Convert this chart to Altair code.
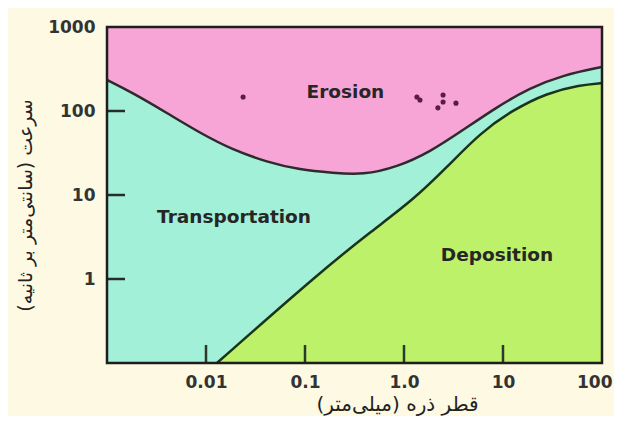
import altair as alt
import pandas as pd

# axis ticks
x_ticks = [0.01, 0.1, 1, 10, 100]
x_tick_labels = ["0.01", "0.1", "1.0", "10", "100"]
y_ticks = [1, 10, 100, 1000]
y_tick_labels = ["1", "10", "100", "1000"]
x_inner_ticks = [0.01, 0.1, 1, 10]
y_inner_ticks = [1, 10, 100]

# erosion curve (upper boundary of transportation)
erosion_d = [0.001, 0.00183, 0.00404, 0.00869, 0.01875, 0.0413, 0.0889, 0.192, 0.386, 0.85, 1.83, 3.95, 8.7, 18.7, 40.4, 100]
erosion_v = [234, 164, 94.6, 54.7, 34.3, 24.7, 19.9, 18.3, 17.3, 21.5, 32.5, 59.4, 112, 188, 268, 334]

# deposition curve (lower boundary of transportation)
deposition_d = [0.0129, 0.142, 0.486, 1.23, 2.72, 5.86, 12.6, 27.8, 60, 100]
deposition_v = [0.1, 1.21, 3.83, 8.7, 21.5, 54.7, 103, 164, 204, 215]

# sample points
sample_d = [0.0237, 1.35, 1.45, 2.48, 2.48, 2.2, 3.35]
sample_v = [147, 147, 135, 155, 128, 109, 124]

# region labels
region_names = ["Erosion", "Transportation", "Deposition"]
region_d = [0.256, 0.0192, 8.7]
region_v = [168, 5.47, 1.93]

PINK = "#f7a5d6"
CYAN = "#a2f0d8"
GREEN = "#bdf16a"
CREAM = "#fdf9e2"
INK = "#262626"


def label_expr(vals, labs):
    expr = "''"
    for v, l in reversed(list(zip(vals, labs))):
        expr = f"(abs(datum.value - {v}) < {v * 1e-3}) ? '{l}' : ({expr})"
    return expr


x_scale = alt.Scale(type="log", domain=[0.001, 100], nice=False)
y_scale = alt.Scale(type="log", domain=[0.1, 1000], nice=False)

x_axis = alt.Axis(
    values=x_ticks, labelExpr=label_expr(x_ticks, x_tick_labels),
    ticks=False, tickSize=0, domain=False, grid=False,
    labelFlush=True, labelFlushOffset=10,
    labelPadding=11, labelFont="DejaVu Sans", labelFontWeight="bold",
    labelFontSize=17, labelColor="#333333",
    title="قطر ذره (میلی‌متر)", titleFont="DejaVu Sans", titleFontSize=20,
    titleFontWeight="normal", titleColor="#222222",
    titleX=290, titleY=41, titleAlign="center", titleBaseline="middle",
)
y_axis = alt.Axis(
    values=y_ticks, labelExpr=label_expr(y_ticks, y_tick_labels),
    ticks=False, tickSize=0, domain=False, grid=False, labelFlush=False,
    labelPadding=12, labelFont="DejaVu Sans", labelFontWeight="bold",
    labelFontSize=17, labelColor="#333333", labelBaseline="middle",
    title="سرعت (سانتی‌متر بر ثانیه)", titleFont="DejaVu Sans", titleFontSize=19,
    titleFontWeight="normal", titleColor="#222222",
    titleX=-82, titleY=178, titleAlign="center", titleBaseline="middle",
)

X = alt.X("d:Q", scale=x_scale, axis=x_axis)
Y = alt.Y("v:Q", scale=y_scale, axis=y_axis)

erosion = pd.DataFrame({"d": erosion_d, "v": erosion_v})
deposition = pd.DataFrame({"d": deposition_d, "v": deposition_v})
samples = pd.DataFrame({"d": sample_d, "v": sample_v})
regions = pd.DataFrame({"name": region_names, "d": region_d, "v": region_v})
xt = pd.DataFrame({"d": x_inner_ticks})
yt = pd.DataFrame({"v": y_inner_ticks})

transport_area = alt.Chart(erosion).mark_area(
    color=CYAN, interpolate="basis", clip=True
).encode(x=X, y=Y, y2=alt.datum(0.1))

deposit_area = alt.Chart(deposition).mark_area(
    color=GREEN, interpolate="basis", clip=True
).encode(x=X, y=Y, y2=alt.datum(0.1))

erosion_line = alt.Chart(erosion).mark_line(
    color="#2e2a2e", strokeWidth=2.5, interpolate="basis", clip=True
).encode(x=X, y=Y)

deposition_line = alt.Chart(deposition).mark_line(
    color="#1a331a", strokeWidth=2.5, interpolate="basis", clip=True
).encode(x=X, y=Y)

x_tick_rules = alt.Chart(xt).mark_rule(color="#2a3a2a", strokeWidth=2.5).encode(
    x=X, y=alt.value(336), y2=alt.value(318)
)
y_tick_rules = alt.Chart(yt).mark_rule(color="#2a2a2a", strokeWidth=2.5).encode(
    y=Y, x=alt.value(0), x2=alt.value(18)
)

frame = alt.Chart(pd.DataFrame({"a": [0]})).mark_rect(
    fillOpacity=0, stroke="#1e1e1e", strokeWidth=2.5
).encode(x=alt.value(0), x2=alt.value(495), y=alt.value(0), y2=alt.value(336))

points = alt.Chart(samples).mark_circle(color="#5a1c40", size=26, opacity=1).encode(x=X, y=Y)

labels = alt.Chart(regions).mark_text(
    font="DejaVu Sans", fontWeight="bold", fontSize=18.5, color=INK,
    align="center", baseline="middle"
).encode(x=X, y=Y, text="name:N")

chart = alt.layer(
    transport_area, deposit_area, erosion_line, deposition_line,
    x_tick_rules, y_tick_rules, frame, points, labels
).properties(
    width=495, height=336, autosize="none",
    padding={"left": 99, "top": 19, "right": 12, "bottom": 53},
    background=CREAM,
).configure_view(fill=PINK, stroke=None)

chart.save("out.html", embed_options={"renderer": "svg", "actions": False})
